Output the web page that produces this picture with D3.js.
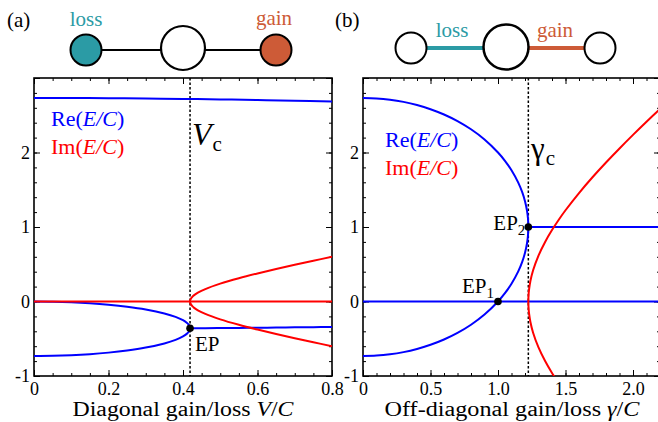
<!DOCTYPE html>
<html>
<head>
<meta charset="utf-8">
<script src="https://cdn.jsdelivr.net/npm/d3@7"></script>
<style>
  html, body { margin: 0; padding: 0; background: #ffffff; }
  svg { display: block; }
</style>
</head>
<body>
<div id="chart"></div>
<script>
// ---- panel (a): diagonal gain/loss V/C ----
const vTopA = [0, 0.1, 0.2, 0.3, 0.4, 0.5, 0.6, 0.7, 0.8];
const reTopA = [2.7321, 2.7313, 2.7290, 2.7251, 2.7197, 2.7128, 2.7043, 2.6942, 2.6843];

// two real eigenvalues that merge at the EP (path goes 0 -> EP -> -0.73)
const vPairA = [0, 0.05, 0.1, 0.15, 0.2, 0.25, 0.3, 0.35, 0.38, 0.4, 0.41, 0.415, 0.418, 0.4189,
                0.418, 0.415, 0.41, 0.4, 0.38, 0.35, 0.3, 0.25, 0.2, 0.15, 0.1, 0.05, 0];
const rePairA = [0, -0.0025, -0.0101, -0.0233, -0.0427, -0.0697, -0.1068, -0.1599, -0.2062, -0.2511, -0.2845, -0.3096, -0.3354, -0.3593,
                 -0.3832, -0.4092, -0.4347, -0.4686, -0.5147, -0.5627, -0.6183, -0.6576, -0.6863, -0.7071, -0.7212, -0.7294, -0.7321];

// complex pair after the EP
const vCplxA = [0.4189, 0.42, 0.425, 0.43, 0.44, 0.46, 0.5, 0.55, 0.6, 0.65, 0.7, 0.75, 0.8];
const reCplxA = [-0.3593, -0.3593, -0.3591, -0.3589, -0.3586, -0.3579, -0.3564, -0.3544, -0.3522, -0.3497, -0.3471, -0.3443, -0.3422];
const imCplxA = [0, 0.0270, 0.0632, 0.0852, 0.1181, 0.1666, 0.2394, 0.3127, 0.3771, 0.4367, 0.4932, 0.5476, 0.5998];

const vcA = 0.4189;
const epA = { v: 0.4189, e: -0.3593 };

// ---- panel (b): off-diagonal gain/loss gamma/C ----
const gArcB = [0, 0.1, 0.2, 0.3, 0.4, 0.5, 0.6, 0.7, 0.8, 0.9, 1.0, 1.05, 1.1, 1.15, 1.18, 1.2, 1.215, 1.222, 1.2247];
const reArcUpB = [2.7321, 2.7263, 2.7088, 2.6793, 2.6371, 2.5811, 2.5100, 2.4213, 2.3115, 2.1747, 2.0, 1.8916, 1.7616, 1.5958, 1.4639, 1.3464, 1.2181, 1.1159, 1.0];
const reArcDnB = [-0.7321, -0.7263, -0.7088, -0.6793, -0.6371, -0.5811, -0.5100, -0.4213, -0.3115, -0.1747, 0, 0.1084, 0.2384, 0.4042, 0.5361, 0.6536, 0.7819, 0.8841, 1.0];

const gImB = [1.2247, 1.227, 1.23, 1.24, 1.26, 1.3, 1.35, 1.4, 1.45, 1.5, 1.6, 1.7, 1.8, 1.9, 2.0, 2.1, 2.2];
const imB = [0, 0.1052, 0.1606, 0.2742, 0.4186, 0.6164, 0.8031, 0.9592, 1.0977, 1.2247, 1.4560, 1.6673, 1.8655, 2.0543, 2.2361, 2.4125, 2.5846];

const gcB = 1.2247;
const ep1B = { g: 1.0, e: 0 };
const ep2B = { g: 1.2247, e: 1.0 };

// ticks
const xMajorA = [0, 0.2, 0.4, 0.6, 0.8];
const xLabelsA = ['0', '0.2', '0.4', '0.6', '0.8'];
const xMajorB = [0, 0.5, 1.0, 1.5, 2.0];
const xLabelsB = ['0', '0.5', '1.0', '1.5', '2.0'];
const yMajor = [-1, 0, 1, 2, 3];
const yLabels = ['-1', '0', '1', '2', ''];

const BLUE = '#0000ff';
const RED = '#ff0000';
const TEAL = '#2b9ba5';
const ORANGE = '#cd5b37';
const SERIF = 'Liberation Serif';

const width = 658;
const height = 422;
const plotTop = 78, plotBottom = 376;

const svg = d3.select('#chart').append('svg')
    .attr('width', width)
    .attr('height', height)
    .attr('font-family', SERIF);

const y = d3.scaleLinear().domain([-1, 3]).range([plotBottom, plotTop]);
const xA = d3.scaleLinear().domain([0, 0.8]).range([34, 332]);
const xB = d3.scaleLinear().domain([0, 2.2]).range([363, 660]);

function frame(x, xMajor, xMinor, xLabels, id) {
    const [x0, x1] = x.range();
    const yMinor = d3.range(-1, 3.001, 0.2);

    const defs = svg.append('defs');
    defs.append('clipPath').attr('id', id)
        .append('rect').attr('x', x0).attr('y', plotTop).attr('width', x1 - x0).attr('height', plotBottom - plotTop);

    const axes = [
        { gen: d3.axisBottom(x), t: `translate(0,${plotBottom})`, major: xMajor, minor: xMinor, labels: xLabels, pad: 6 },
        { gen: d3.axisTop(x), t: `translate(0,${plotTop})`, major: xMajor, minor: xMinor, labels: null, pad: 6 },
        { gen: d3.axisLeft(y), t: `translate(${x0},0)`, major: yMajor, minor: yMinor, labels: yLabels, pad: 4 },
        { gen: d3.axisRight(y), t: `translate(${x1},0)`, major: yMajor, minor: yMinor, labels: null, pad: 4 }
    ];
    axes.forEach((a) => {
        // minor ticks
        const gm = svg.append('g').attr('transform', a.t)
            .call(a.gen.tickValues(a.minor).tickSizeInner(-3).tickSizeOuter(0).tickFormat(''));
        gm.select('.domain').remove();
        // major ticks
        const g = svg.append('g').attr('transform', a.t)
            .call(a.gen.tickValues(a.major).tickSizeInner(-6).tickSizeOuter(0).tickPadding(a.pad)
                .tickFormat(a.labels ? (d, i) => a.labels[i] : ''));
        g.select('.domain').remove();
        g.attr('font-family', SERIF).attr('font-size', 18);
        g.selectAll('.tick text').attr('fill', '#000');
    });
    svg.selectAll('.tick line').attr('stroke', '#000').attr('stroke-width', 1);

    svg.append('rect')
        .attr('x', x0).attr('y', plotTop)
        .attr('width', x1 - x0).attr('height', plotBottom - plotTop)
        .attr('fill', 'none').attr('stroke', '#000').attr('stroke-width', 1.6);

    return svg.append('g').attr('clip-path', `url(#${id})`);
}

const curve = d3.curveCatmullRom.alpha(0.5);

function path(g, pts, x, color, w) {
    g.append('path')
        .datum(pts)
        .attr('d', d3.line().x((d) => x(d[0])).y((d) => y(d[1])).curve(curve))
        .attr('fill', 'none')
        .attr('stroke', color)
        .attr('stroke-width', w || 2);
}

// ---------- panel (a) ----------
const gA = frame(xA, xMajorA, d3.range(0, 0.8001, 0.05), xLabelsA, 'clipA');

gA.append('line')
    .attr('x1', xA(vcA)).attr('x2', xA(vcA))
    .attr('y1', plotTop).attr('y2', plotBottom)
    .attr('stroke', '#000').attr('stroke-width', 1.5).attr('stroke-dasharray', '2.5,2');

path(gA, vTopA.map((v, i) => [v, reTopA[i]]), xA, BLUE);
path(gA, vPairA.map((v, i) => [v, rePairA[i]]), xA, BLUE);
path(gA, vCplxA.map((v, i) => [v, reCplxA[i]]), xA, BLUE);
path(gA, [[0, 0], [0.8, 0]], xA, RED);
const imPathA = vCplxA.map((v, i) => [v, imCplxA[i]]).reverse()
    .concat(vCplxA.slice(1).map((v, i) => [v, -imCplxA[i + 1]]));
path(gA, imPathA, xA, RED);

svg.append('circle').attr('cx', xA(epA.v)).attr('cy', y(epA.e)).attr('r', 3.8).attr('fill', '#000');
svg.append('text').attr('x', xA(epA.v) + 5).attr('y', y(epA.e) + 23)
    .attr('font-size', 21).text('EP');

// V_c label
const vcLab = svg.append('text').attr('x', 192).attr('y', 145).attr('font-size', 32);
vcLab.append('tspan').attr('font-style', 'italic').text('V');
vcLab.append('tspan').attr('font-size', 21).attr('dy', 6).attr('dx', 1).text('c');

// legend
function legend(x0, y0) {
    const t1 = svg.append('text').attr('x', x0).attr('y', y0).attr('font-size', 22).attr('fill', BLUE);
    t1.append('tspan').text('Re(');
    t1.append('tspan').attr('font-style', 'italic').text('E/C');
    t1.append('tspan').text(')');
    const t2 = svg.append('text').attr('x', x0).attr('y', y0 + 28).attr('font-size', 22).attr('fill', RED);
    t2.append('tspan').text('Im(');
    t2.append('tspan').attr('font-style', 'italic').text('E/C');
    t2.append('tspan').text(')');
}
legend(51, 126);

// axis title (a)
const tA = svg.append('text').attr('x', 183).attr('y', 416).attr('text-anchor', 'middle')
    .attr('font-size', 20).attr('textLength', 221).attr('lengthAdjust', 'spacingAndGlyphs');
tA.append('tspan').text('Diagonal gain/loss ');
tA.append('tspan').attr('font-style', 'italic').text('V');
tA.append('tspan').text('/');
tA.append('tspan').attr('font-style', 'italic').text('C');

// ---------- panel (b) ----------
const gB = frame(xB, xMajorB, d3.range(0, 2.2001, 0.1), xLabelsB, 'clipB');

gB.append('line')
    .attr('x1', xB(gcB)).attr('x2', xB(gcB))
    .attr('y1', plotTop).attr('y2', plotBottom)
    .attr('stroke', '#000').attr('stroke-width', 1.5).attr('stroke-dasharray', '2.5,2');

path(gB, [[0, 0], [2.2, 0]], xB, BLUE);
const arcB = gArcB.map((g, i) => [g, reArcUpB[i]])
    .concat(gArcB.slice(0, -1).reverse().map((g, i) => [g, reArcDnB[gArcB.length - 2 - i]]));
path(gB, arcB, xB, BLUE);
path(gB, [[gcB, 1], [2.2, 1]], xB, BLUE);
const imPathB = gImB.map((g, i) => [g, imB[i]]).reverse()
    .concat(gImB.slice(1).map((g, i) => [g, -imB[i + 1]]));
path(gB, imPathB, xB, RED);

[ep1B, ep2B].forEach((p) => {
    svg.append('circle').attr('cx', xB(p.g)).attr('cy', y(p.e)).attr('r', 3.8).attr('fill', '#000');
});
function epLabel(x0, y0, sub) {
    const t = svg.append('text').attr('x', x0).attr('y', y0).attr('font-size', 21).attr('text-anchor', 'end');
    t.append('tspan').text('EP');
    t.append('tspan').attr('font-size', 15).attr('dy', 5).text(sub);
}
epLabel(xB(ep2B.g) - 3, y(ep2B.e) + 3, '2');
epLabel(xB(ep1B.g) - 4, y(ep1B.e) - 9, '1');

// gamma_c label
const gcLab = svg.append('text').attr('x', 531).attr('y', 159).attr('font-size', 31);
gcLab.append('tspan').text('γ');
gcLab.append('tspan').attr('font-size', 21).attr('dy', 6).attr('dx', 1).text('c');

legend(385, 147);

const tB = svg.append('text').attr('x', 512).attr('y', 416).attr('text-anchor', 'middle')
    .attr('font-size', 20).attr('textLength', 255).attr('lengthAdjust', 'spacingAndGlyphs');
tB.append('tspan').text('Off-diagonal gain/loss ');
tB.append('tspan').attr('font-style', 'italic').text('γ');
tB.append('tspan').text('/');
tB.append('tspan').attr('font-style', 'italic').text('C');

// ---------- schematics ----------
svg.append('text').attr('x', 7).attr('y', 27).attr('font-size', 21).text('(a)');
svg.append('text').attr('x', 335).attr('y', 27).attr('font-size', 21).text('(b)');

// (a) on-site loss and gain
svg.append('line').attr('x1', 86).attr('x2', 276).attr('y1', 50).attr('y2', 50)
    .attr('stroke', '#000').attr('stroke-width', 2);
svg.append('circle').attr('cx', 86).attr('cy', 50).attr('r', 15.5).attr('fill', TEAL).attr('stroke', '#000').attr('stroke-width', 2);
svg.append('circle').attr('cx', 183).attr('cy', 48).attr('r', 22).attr('fill', '#fff').attr('stroke', '#000').attr('stroke-width', 2.2);
svg.append('circle').attr('cx', 276).attr('cy', 50).attr('r', 15.5).attr('fill', ORANGE).attr('stroke', '#000').attr('stroke-width', 2);
svg.append('text').attr('x', 86).attr('y', 26).attr('text-anchor', 'middle').attr('font-size', 21).attr('fill', TEAL).text('loss');
svg.append('text').attr('x', 274).attr('y', 25).attr('text-anchor', 'middle').attr('font-size', 21).attr('fill', ORANGE).text('gain');

// (b) loss and gain on the bonds
svg.append('line').attr('x1', 411).attr('x2', 506).attr('y1', 48).attr('y2', 48)
    .attr('stroke', TEAL).attr('stroke-width', 4);
svg.append('line').attr('x1', 506).attr('x2', 600).attr('y1', 48).attr('y2', 48)
    .attr('stroke', ORANGE).attr('stroke-width', 4);
svg.append('circle').attr('cx', 411).attr('cy', 48).attr('r', 15.5).attr('fill', '#fff').attr('stroke', '#000').attr('stroke-width', 2);
svg.append('circle').attr('cx', 506).attr('cy', 47).attr('r', 22.5).attr('fill', '#fff').attr('stroke', '#000').attr('stroke-width', 2.5);
svg.append('circle').attr('cx', 600).attr('cy', 48).attr('r', 15.5).attr('fill', '#fff').attr('stroke', '#000').attr('stroke-width', 2);
svg.append('text').attr('x', 452).attr('y', 37).attr('text-anchor', 'middle').attr('font-size', 21).attr('fill', TEAL).text('loss');
svg.append('text').attr('x', 555).attr('y', 37).attr('text-anchor', 'middle').attr('font-size', 21).attr('fill', ORANGE).text('gain');
</script>
</body>
</html>
